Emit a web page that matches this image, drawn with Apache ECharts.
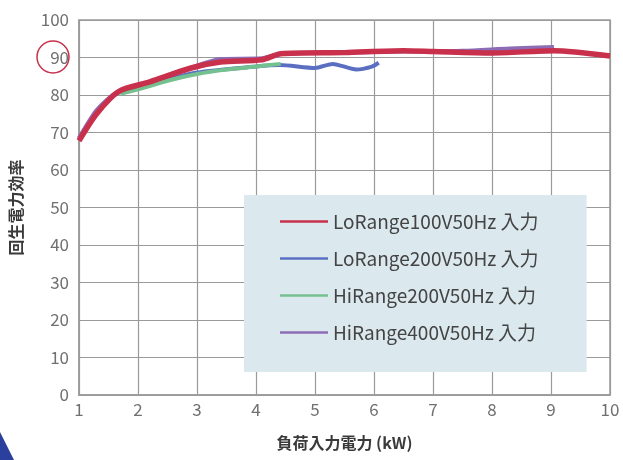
<!DOCTYPE html>
<html>
<head>
<meta charset="utf-8">
<script src="https://cdn.jsdelivr.net/npm/echarts@6/dist/echarts.min.js"></script>
<style>
  html, body { margin: 0; padding: 0; background: #fff; }
  #chart { width: 623px; height: 460px; }
</style>
</head>
<body>
<div id="chart"></div>
<script>
const seriesNames = [
  'LoRange100V50Hz 入力',
  'LoRange200V50Hz 入力',
  'HiRange200V50Hz 入力',
  'HiRange400V50Hz 入力'
]

// [負荷入力電力 kW, 効率 %]
const lo100 = [[1, 67.8], [1.3, 75], [1.68, 81], [2.2, 83.5], [2.9, 87.2], [3.4, 88.8], [4.1, 89.4], [4.42, 91], [5.5, 91.3], [6.5, 91.8], [7, 91.6], [8, 91.2], [9.05, 91.8], [10, 90.4]]
const lo200 = [[1, 68.5], [1.3, 75.5], [1.65, 80.5], [2.2, 83], [3, 86], [4, 87.6], [4.4, 88], [5, 87.2], [5.3, 88.3], [5.7, 86.8], [5.95, 87.5], [6.08, 88.6]]
const hi200 = [[1.7, 80.3], [2, 81.5], [2.5, 83.8], [3, 85.6], [3.5, 86.8], [4, 87.6], [4.42, 88.3]]
const hi400 = [[1, 68.5], [1.3, 76], [1.65, 80.8], [2.2, 83.5], [2.9, 87.3], [3.4, 89.6], [4.1, 89.8], [4.42, 91], [5.5, 91.3], [6.5, 91.6], [7.5, 91.8], [8.3, 92.4], [9.05, 92.8]]

const colors = ['#c8304c', '#5b6fc2', '#74c08e', '#8c6cb4']
const yTicks = [0, 10, 20, 30, 40, 50, 60, 70, 80, 90, 100]
const xTicks = [1, 2, 3, 4, 5, 6, 7, 8, 9, 10]

const chart = echarts.init(document.getElementById('chart'))

const font = "'Noto Sans CJK JP', 'Noto Sans', sans-serif"

function line(name, data, color, width, z) {
  return {
    name: name,
    type: 'line',
    data: data,
    smooth: 0.25,
    symbol: 'none',
    z: z,
    lineStyle: { color: color, width: width },
    itemStyle: { color: color }
  }
}

chart.setOption({
  backgroundColor: '#fff',
  animation: false,
  textStyle: { fontFamily: font },
  grid: {
    left: 78, right: 13, top: 20, bottom: 65,
    show: true, borderColor: '#9a9a9a', borderWidth: 1.5
  },
  xAxis: {
    type: 'value',
    min: xTicks[0],
    max: xTicks[xTicks.length - 1],
    interval: 1,
    name: '負荷入力電力 (kW)',
    nameLocation: 'middle',
    nameGap: 40,
    nameTextStyle: { color: '#3a3a3a', fontSize: 16, fontWeight: 'bold', fontFamily: font },
    axisLine: { lineStyle: { color: '#9a9a9a', width: 1.5 } },
    axisTick: { show: false },
    axisLabel: { color: '#707070', fontSize: 17, margin: 6, fontFamily: font },
    splitLine: { lineStyle: { color: '#9a9a9a', width: 1.2 } }
  },
  yAxis: {
    type: 'value',
    min: yTicks[0],
    max: yTicks[yTicks.length - 1],
    interval: 10,
    name: '回生電力効率',
    nameLocation: 'middle',
    nameGap: 55,
    nameRotate: 90,
    nameTextStyle: { color: '#3a3a3a', fontSize: 16, fontWeight: 'bold', fontFamily: font },
    axisLine: { show: true, lineStyle: { color: '#9a9a9a', width: 1.5 } },
    axisTick: { show: false },
    axisLabel: { color: '#707070', fontSize: 17, margin: 10, fontFamily: font },
    splitLine: { lineStyle: { color: '#9a9a9a', width: 1.2 } }
  },
  legend: {
    data: seriesNames,
    orient: 'vertical',
    left: 244,
    top: 195,
    backgroundColor: '#dbe9ee',
    padding: [17, 48, 30, 36],
    itemGap: 18,
    itemWidth: 48,
    itemHeight: 20,
    icon: 'path://M0,9 L48,9 L48,11.5 L0,11.5 Z',
    textStyle: { color: '#444', fontSize: 19, fontFamily: font, padding: [0, 0, 0, 0] }
  },
  series: [
    line(seriesNames[0], lo100, colors[0], 5.5, 5),
    line(seriesNames[1], lo200, colors[1], 4, 3),
    line(seriesNames[2], hi200, colors[2], 4, 3),
    line(seriesNames[3], hi400, colors[3], 4, 4)
  ],
  graphic: [
    {
      type: 'circle',
      shape: { cx: 53, cy: 57, r: 16 },
      style: { fill: 'none', stroke: '#c8304c', lineWidth: 1.5 }
    },
    {
      type: 'polygon',
      shape: { points: [[0, 432], [14, 460], [0, 460]] },
      style: { fill: '#2b3f9c' }
    }
  ]
})
</script>
</body>
</html>
